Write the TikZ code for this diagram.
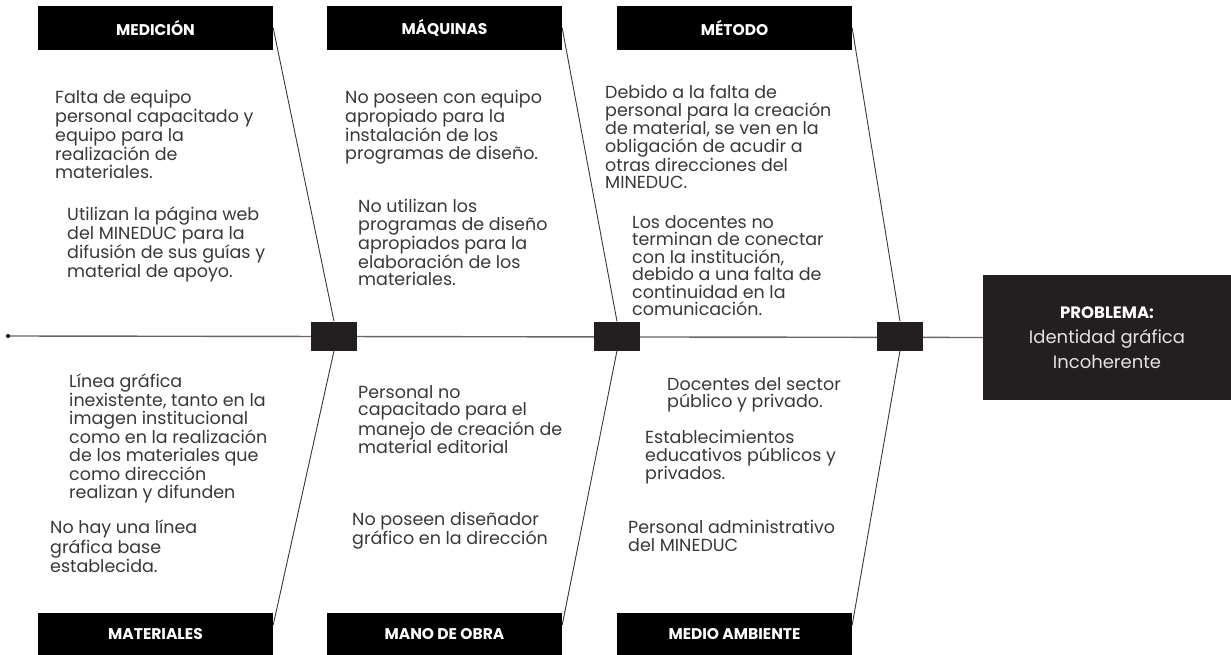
\documentclass[tikz,border=0pt]{standalone}
\usepackage{fontspec}
\setmainfont{Poppins}
\usepackage{tikz}
\usetikzlibrary{positioning}
\definecolor{ink}{HTML}{383838}
\definecolor{knotgray}{HTML}{231F20}
\definecolor{pale}{HTML}{E2E2E2}

\begin{document}
\begin{tikzpicture}[x=1pt,y=-1pt,
    head/.style={fill=black, text=white, minimum width=235pt, minimum height=44pt,
        inner sep=0pt, font=\bfseries\fontsize{15.5}{17}\selectfont},
    cause/.style={anchor=north west, align=left, inner sep=0pt, text=ink,
        font=\fontsize{17.5}{17.5}\selectfont},
    knot/.style={fill=knotgray, minimum width=46pt, minimum height=29pt, inner sep=0pt},
    bone/.style={draw=ink, line width=0.9pt},
    spine/.style={draw=gray!80!black, line width=1.4pt}]
    % \draw[help lines] (0,0) grid[step=50] (1231,655);
    \useasboundingbox (0,0) rectangle (1231,655);

    \node[head] (med) at (155.5,28) {MEDICIÓN};
    \node[head] (maq) at (444.5,28) {MÁQUINAS};
    \node[head] (met) at (734.5,28) {MÉTODO};
    \node[head, minimum height=42pt] (mat)  at (155.5,634) {MATERIALES};
    \node[head, minimum height=42pt] (obra) at (444.5,634) {MANO DE OBRA};
    \node[head, minimum height=42pt] (amb)  at (734.5,634) {MEDIO AMBIENTE};

    \node[fill=knotgray, minimum width=248pt, minimum height=125pt, inner sep=0pt,
        align=center, text=pale, font=\fontsize{18}{25}\selectfont]
        (prob) at (1107,337.5) {{\color{white}\bfseries\fontsize{16.5}{25}\selectfont PROBLEMA:}\\Identidad gráfica\\Incoherente};

    \coordinate (tail) at (8,336);
    \draw[spine] (tail) -- (prob.west);
    \fill[black] (tail) circle (2);

    \node[knot] (k1) at (334,336) {};
    \node[knot] (k2) at (617,336) {};
    \node[knot] (k3) at (900,336) {};

    \draw[bone] (med.east) -- (k1.north);
    \draw[bone] (maq.east) -- (k2.north);
    \draw[bone] (met.east) -- (k3.north);
    \draw[bone] (k1.south) -- ([yshift=9pt]mat.east);
    \draw[bone] (k2.south) -- ([yshift=9pt]obra.east);
    \draw[bone] (k3.south) -- ([yshift=9pt]amb.east);

    \node[cause] (c1) at (55,90) {Falta de equipo\\personal capacitado y\\equipo para la\\realización de\\materiales.};
    \node[cause] (c2) at (67,207) {Utilizan la página web\\del MINEDUC para la\\difusión de sus guías y\\material de apoyo.};
    \node[cause] (c3) at (345,90) {No poseen con equipo\\apropiado para la\\instalación de los\\programas de diseño.};
    \node[cause] (c4) at (358,199) {No utilizan los\\programas de diseño\\apropiados para la\\elaboración de los\\materiales.};
    \node[cause] (c5) at (605,85) {Debido a la falta de\\personal para la creación\\de material, se ven en la\\obligación de acudir a\\otras direcciones del\\MINEDUC.};
    \node[cause] (c6) at (632,215) {Los docentes no\\terminan de conectar\\con la institución,\\debido a una falta de\\continuidad en la\\comunicación.};

    \node[cause] (c7) at (69,374) {Línea gráfica\\inexistente, tanto en la\\imagen institucional\\como en la realización\\de los materiales que\\como dirección\\realizan y difunden};
    \node[cause] (c8) at (50,520) {No hay una línea\\gráfica base\\establecida.};
    \node[cause] (c9) at (358,385) {Personal no\\capacitado para el\\manejo de creación de\\material editorial};
    \node[cause] (c10) at (352,512) {No poseen diseñador\\gráfico en la dirección};
    \node[cause] (c11) at (667,377) {Docentes del sector\\público y privado.};
    \node[cause] (c12) at (645,430) {Establecimientos\\educativos públicos y\\privados.};
    \node[cause] (c13) at (628,520) {Personal administrativo\\del MINEDUC};
\end{tikzpicture}
\end{document}
